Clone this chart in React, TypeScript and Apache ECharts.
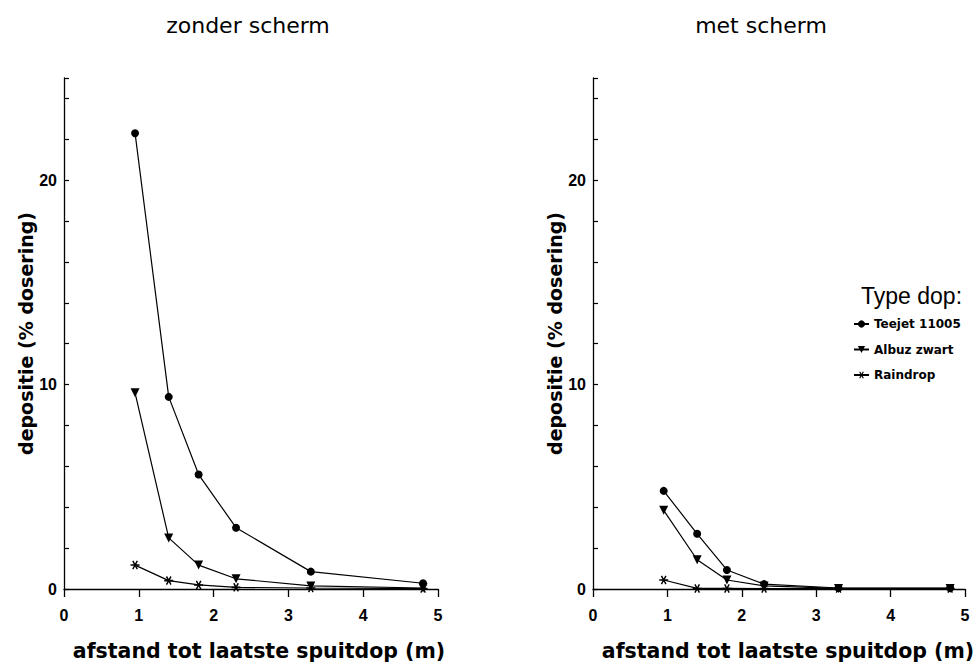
import React, { useEffect, useRef } from "react";
import * as echarts from "echarts";

// Afstand tot laatste spuitdop (m)
const distances = [0.95, 1.4, 1.8, 2.3, 3.3, 4.8];

// zonder scherm
const zonderTeejet = [22.3, 9.4, 5.6, 3.0, 0.85, 0.28];
const zonderAlbuz = [9.6, 2.5, 1.17, 0.5, 0.15, 0.05];
const zonderRaindrop = [1.17, 0.41, 0.2, 0.08, 0.05, 0.02];

// met scherm
const metTeejet = [4.8, 2.7, 0.93, 0.24, 0.05, 0.05];
const metAlbuz = [3.85, 1.43, 0.44, 0.15, 0.03, 0.03];
const metRaindrop = [0.44, 0.03, 0.03, 0.02, 0.02, 0.02];

const panelTitles = ["zonder scherm", "met scherm"];
const seriesNames = ["Teejet 11005", "Albuz zwart", "Raindrop"];
const xTicks = [0, 1, 2, 3, 4, 5];
const yLabelValues = [0, 10, 20];

const ASTERISK =
  "path://M0,4.2L10,4.2L10,5.8L0,5.8Z M3.19,0.27L8.19,8.93L6.81,9.73L1.81,1.07Z M8.19,1.07L3.19,9.73L1.81,8.93L6.81,0.27Z";

const pair = (ys: number[]) => distances.map((d, i) => [d, ys[i]]);

export default function App() {
  const ref = useRef<HTMLDivElement>(null);

  useEffect(() => {
    if (!ref.current) return;
    const chart = echarts.init(ref.current, undefined, { renderer: "svg" });
    const black = "#000";

    const makeX = (i: number, padLeft: number) => ({
      gridIndex: i,
      type: "value",
      min: xTicks[0],
      max: xTicks[xTicks.length - 1],
      interval: 1,
      axisLine: { show: true, onZero: false, lineStyle: { color: black, width: 1.3 } },
      axisTick: { show: true, inside: false, length: 8, lineStyle: { color: black, width: 1.3 } },
      axisLabel: {
        color: black,
        fontSize: 16,
        fontWeight: "bold",
        fontFamily: "Liberation Sans",
        margin: 18,
      },
      splitLine: { show: false },
      name: "afstand tot laatste spuitdop (m)",
      nameLocation: "middle",
      nameGap: 51,
      nameTextStyle: {
        color: black,
        fontSize: 20.5,
        fontWeight: "bold",
        fontFamily: "DejaVu Sans",
        padding: [0, 0, 0, padLeft],
      },
    });

    const makeY = (i: number) => ({
      gridIndex: i,
      type: "value",
      min: 0,
      max: 25,
      interval: 2,
      axisLine: { show: true, onZero: false, lineStyle: { color: black, width: 1.3 } },
      axisTick: { show: true, inside: true, length: 5, lineStyle: { color: black, width: 1.2 } },
      axisLabel: {
        color: black,
        fontSize: 16,
        fontWeight: "bold",
        fontFamily: "Liberation Sans",
        margin: 7,
        formatter: (v: number) => (yLabelValues.includes(v) ? String(v) : ""),
      },
      splitLine: { show: false },
      name: "depositie (% dosering)",
      nameLocation: "middle",
      nameGap: 26,
      nameTextStyle: {
        color: black,
        fontSize: 19,
        fontWeight: "bold",
        fontFamily: "DejaVu Sans",
      },
    });

    const symbols = [
      { symbol: "circle", symbolSize: 8, symbolRotate: 0 },
      { symbol: "triangle", symbolSize: 9, symbolRotate: 180 },
      { symbol: ASTERISK, symbolSize: 9, symbolRotate: 0 },
    ];

    const panels = [
      [zonderTeejet, zonderAlbuz, zonderRaindrop],
      [metTeejet, metAlbuz, metRaindrop],
    ];

    const series: any[] = [];
    panels.forEach((sets, p) => {
      sets.forEach((ys, s) => {
        series.push({
          type: "line",
          name: seriesNames[s],
          xAxisIndex: p,
          yAxisIndex: p,
          data: pair(ys),
          symbol: symbols[s].symbol,
          symbolSize: symbols[s].symbolSize,
          symbolRotate: symbols[s].symbolRotate,
          showAllSymbol: true,
          lineStyle: { color: black, width: 1.2 },
          itemStyle: { color: black },
          z: 3 - s,
        });
      });
    });

    chart.setOption({
      animation: false,
      backgroundColor: "#fff",
      textStyle: { fontFamily: "Liberation Sans" },
      title: [
        {
          text: panelTitles[0],
          left: 248,
          top: 14,
          padding: 0,
          textAlign: "center",
          textStyle: { fontSize: 22, fontWeight: "normal", fontFamily: "DejaVu Sans", color: black },
        },
        {
          text: panelTitles[1],
          left: 761,
          top: 14,
          padding: 0,
          textAlign: "center",
          textStyle: { fontSize: 22, fontWeight: "normal", fontFamily: "DejaVu Sans", color: black },
        },
        {
          text: "Type dop:",
          left: 861,
          top: 284,
          padding: 0,
          textStyle: { fontSize: 23, fontWeight: "normal", fontFamily: "Liberation Sans", color: black },
        },
      ],
      legend: {
        data: seriesNames,
        orient: "vertical",
        left: 853,
        top: 318,
        padding: 0,
        itemWidth: 15,
        itemHeight: 9,
        itemGap: 13.5,
        textStyle: { fontSize: 12, fontWeight: "bold", fontFamily: "DejaVu Sans", color: black },
      },
      grid: [
        { left: 64, right: 535, top: 78, bottom: 78, outerBoundsMode: "none", containLabel: false },
        { left: 593, right: 8, top: 78, bottom: 78, outerBoundsMode: "none", containLabel: false },
      ],
      xAxis: [makeX(0, 16), makeX(1, 18)],
      yAxis: [makeY(0), makeY(1)],
      series,
    });

    return () => chart.dispose();
  }, []);

  return (
    <div
      ref={ref}
      style={{ position: "fixed", left: 0, top: 0, width: 973, height: 667 }}
    />
  );
}
